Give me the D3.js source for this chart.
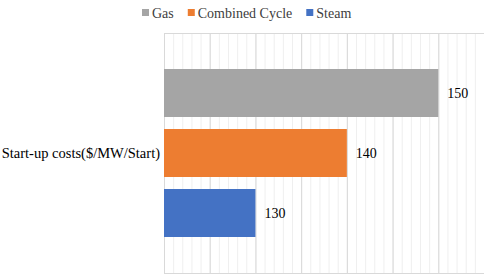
<!DOCTYPE html>
<html>
<head>
<meta charset="utf-8">
<script src="https://cdn.jsdelivr.net/npm/d3@7"></script>
<style>
  body { margin: 0; background: #fff; }
</style>
</head>
<body>
<script>
// chart data
const categories = ["Start-up costs($/MW/Start)"];
const seriesNames = ["Gas", "Combined Cycle", "Steam"];
const seriesValues = [150, 140, 130];
const seriesColors = ["#a5a5a5", "#ed7d31", "#4472c4"];
const xDomain = [120, 155];

const FONT = "'Liberation Serif', 'DejaVu Serif', serif";

function main(){
    let width = 484, height = 274;
    let left = 164, right = 484, top = 33, bottom = 273;

    let svg = d3.select("body").append("svg")
        .attr("width", width)
        .attr("height", height)
        .attr("font-family", FONT);

    let xScale = d3.scaleLinear().domain(xDomain).range([left, right]);
    let yCat = d3.scaleBand().domain(categories).range([top, bottom]).paddingOuter(0.2143);
    let ySeries = d3.scaleBand().domain(seriesNames)
        .range([0, yCat.bandwidth()]).paddingInner(0.2).paddingOuter(0);

    // minor gridlines
    svg.append("g")
        .attr("transform", "translate(0," + bottom + ")")
        .call(d3.axisBottom(xScale).tickValues(d3.range(xDomain[0], xDomain[1] + 1, 1))
            .tickSize(-(bottom - top)).tickFormat(""))
        .call(g => g.select(".domain").remove())
        .call(g => g.selectAll("line").attr("stroke", "#efefef"));

    // major gridlines
    svg.append("g")
        .attr("transform", "translate(0," + bottom + ")")
        .call(d3.axisBottom(xScale).tickValues(d3.range(xDomain[0], xDomain[1] + 1, 5))
            .tickSize(-(bottom - top)).tickFormat(""))
        .call(g => g.select(".domain").remove())
        .call(g => g.selectAll("line").attr("stroke", "#d9d9d9"));

    // plot border
    svg.append("rect")
        .attr("x", left + 0.5).attr("y", top + 0.5)
        .attr("width", right - left).attr("height", bottom - top)
        .attr("fill", "none").attr("stroke", "#d9d9d9");

    let rows = seriesNames.map((s, i) => ({name: s, value: seriesValues[i], color: seriesColors[i], cat: categories[0]}));

    let bars = svg.append("g");
    bars.selectAll("rect")
        .data(rows)
        .enter()
        .append("rect")
        .attr("x", xScale(xDomain[0]))
        .attr("y", d => yCat(d.cat) + ySeries(d.name))
        .attr("width", d => xScale(d.value) - xScale(xDomain[0]))
        .attr("height", ySeries.bandwidth())
        .attr("fill", d => d.color);

    bars.selectAll("text")
        .data(rows)
        .enter()
        .append("text")
        .attr("x", d => xScale(d.value) + 9)
        .attr("y", d => yCat(d.cat) + ySeries(d.name) + ySeries.bandwidth() / 2)
        .attr("dy", "0.35em")
        .attr("font-family", FONT)
        .attr("font-size", 14)
        .attr("fill", "#000")
        .text(d => d.value);

    // category label
    svg.append("text")
        .attr("x", left - 4)
        .attr("y", yCat(categories[0]) + yCat.bandwidth() / 2)
        .attr("dy", "0.35em")
        .attr("text-anchor", "end")
        .attr("font-family", FONT)
        .attr("font-size", 14.5)
        .text(categories[0]);

    // legend
    let legend = svg.append("g").attr("transform", "translate(0,13)");
    let lx = 142;
    seriesNames.forEach((s, i) => {
        let g = legend.append("g").attr("transform", "translate(" + lx + ",0)");
        g.append("rect").attr("x", 0).attr("y", -4).attr("width", 7).attr("height", 7)
            .attr("fill", seriesColors[i]);
        let t = g.append("text").attr("x", 10).attr("y", 0).attr("dy", "0.35em")
            .attr("font-family", FONT)
            .attr("font-size", 14).attr("fill", "#404040").text(s);
        lx += 10 + t.node().getComputedTextLength() + 14;
    });
}

main();
</script>
</body>
</html>
